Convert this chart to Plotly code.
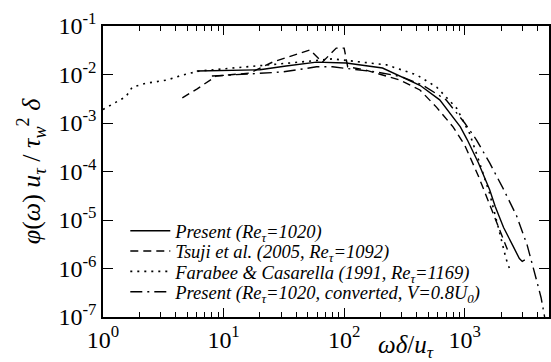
import plotly.graph_objects as go

# Present (Re_tau=1020)
present_w = [6, 10, 20, 33, 59, 104, 208, 425, 620, 920, 1050, 1300, 1610, 1790, 2100, 2500, 2840, 3000, 3150]
present_phi = [0.0118, 0.012, 0.0125, 0.015, 0.018, 0.0173, 0.0136, 6e-3, 3e-3, 8.3e-4, 4.5e-4, 1.5e-4,
               4.2e-5, 1.9e-5, 7e-6, 3e-6, 1.6e-6, 1.4e-6, 1.5e-6]

# Tsuji et al. (2005)
tsuji_w = [4.55, 6, 8.7, 16.5, 25.5, 42, 52, 66, 86, 100, 107, 150, 290, 425, 585, 800, 1000, 1300, 1600, 2000, 2300]
tsuji_phi = [3.3e-3, 5e-3, 9.3e-3, 0.0107, 0.018, 0.0276, 0.032, 0.018, 0.035, 0.035, 0.0144, 0.0124,
             7.7e-3, 4.8e-3, 2.1e-3, 8.3e-4, 3.5e-4, 8e-5, 2.2e-5, 5e-6, 2.2e-6]

# Farabee & Casarella (1991)
farabee_w = [1.0, 1.55, 1.75, 2.28, 3.4, 4.6, 6.3, 11.9, 22.6, 42.6, 80, 135, 225, 400, 585, 860, 1100,
             1330, 1610, 1900, 2200, 2350]
farabee_phi = [1.9e-3, 3.5e-3, 5.5e-3, 6.6e-3, 7.7e-3, 9.8e-3, 0.0118, 0.0135, 0.0158, 0.018, 0.021, 0.018,
               0.0158, 9.8e-3, 5.5e-3, 2e-3, 6e-4, 1.5e-4, 3.5e-5, 7e-6, 1.6e-6, 1e-6]

# Present (converted, V=0.8U0)
conv_w = [8, 10, 16.5, 31, 59, 80, 135, 185, 300, 450, 700, 1000, 1250, 1610, 2080, 2700, 3300, 3700, 4000, 4300, 4600]
conv_phi = [0.0093, 0.0097, 0.0103, 0.0113, 0.0144, 0.0144, 0.0124, 0.0113, 0.009, 0.006, 3e-3, 1e-3, 4.5e-4,
            1.5e-4, 4.5e-5, 1.2e-5, 3e-6, 1.1e-6, 5e-7, 2.5e-7, 1e-7]

series_names = [
    "Present (Re<sub>τ</sub>=1020)",
    "Tsuji et al. (2005, Re<sub>τ</sub>=1092)",
    "Farabee &amp; Casarella (1991, Re<sub>τ</sub>=1169)",
    "Present (Re<sub>τ</sub>=1020, converted, V=0.8U<sub>0</sub>)",
]

x_tickvals = [1, 10, 100, 1000]
x_ticktext = ["10<sup>0</sup>", "10<sup>1</sup>", "10<sup>2</sup>", "10<sup>3</sup>"]
y_tickvals = [1e-7, 1e-6, 1e-5, 1e-4, 1e-3, 1e-2, 1e-1]
y_ticktext = ["10<sup>-7</sup>", "10<sup>-6</sup>", "10<sup>-5</sup>", "10<sup>-4</sup>",
              "10<sup>-3</sup>", "10<sup>-2</sup>", "10<sup>-1</sup>"]
x_minor = [m * 10 ** k for k in range(0, 4) for m in range(2, 10)]

SERIF = "'Liberation Serif', 'Times New Roman', Tinos, 'DejaVu Serif', serif"

styles = [
    dict(color="black", width=1.4, dash="solid"),
    dict(color="black", width=1.4, dash="8px,5px"),
    dict(color="black", width=1.6, dash="2px,5px"),
    dict(color="black", width=1.4, dash="12px,5px,2px,5px"),
]
data = [(present_w, present_phi), (tsuji_w, tsuji_phi), (farabee_w, farabee_phi), (conv_w, conv_phi)]
legend_ids = ["legend", "legend2", "legend3", "legend4"]

fig = go.Figure()
for (xs, ys), name, st, lg in zip(data, series_names, styles, legend_ids):
    fig.add_trace(go.Scatter(x=xs, y=ys, mode="lines", name=name, line=st, legend=lg))

legend_rows_y = [0.295, 0.225, 0.155, 0.085]
legend_common = dict(x=0.05, xanchor="left", yanchor="middle",
                     bgcolor="rgba(0,0,0,0)", borderwidth=0,
                     font=dict(family=SERIF, size=18.5, style="italic", color="black"),
                     itemwidth=40)
legend_layout = {lg: dict(y=yy, **legend_common) for lg, yy in zip(legend_ids, legend_rows_y)}

fig.update_layout(
    width=551, height=362,
    margin=dict(l=103, r=2, t=26, b=45, autoexpand=False),
    paper_bgcolor="white", plot_bgcolor="white",
    font=dict(family=SERIF, color="black"),
    showlegend=True,
    **legend_layout,
    xaxis=dict(type="log", range=[0, 3.699], showgrid=False, zeroline=False, automargin=False,
               showline=True, linecolor="black", linewidth=1.5, mirror="ticks",
               ticks="inside", ticklen=9, tickwidth=1.2, tickcolor="black",
               tickmode="array", tickvals=x_tickvals, ticktext=x_ticktext,
               tickfont=dict(family=SERIF, size=24, color="black"),
               minor=dict(ticks="inside", ticklen=5, tickwidth=1, tickcolor="black",
                          tickmode="array", tickvals=x_minor, showgrid=False)),
    yaxis=dict(type="log", range=[-7, -1], showgrid=False, zeroline=False, automargin=False,
               showline=True, linecolor="black", linewidth=1.5, mirror="ticks",
               ticks="inside", ticklen=10, tickwidth=1.2, tickcolor="black",
               tickmode="array", tickvals=y_tickvals, ticktext=y_ticktext,
               tickfont=dict(family=SERIF, size=24, color="black"),
               title=dict(text="<i>φ</i>(<i>ω</i>) <i>u<sub>τ</sub></i> / <i>τ<sub>w</sub></i><sup>2</sup> <i>δ</i>",
                          font=dict(family=SERIF, size=26, color="black"), standoff=10)),
    annotations=[dict(text="<i>ωδ</i>/<i>u<sub>τ</sub></i>", xref="paper", yref="paper",
                      x=0.68, y=-0.1, xanchor="center", yanchor="middle", showarrow=False,
                      font=dict(family=SERIF, size=25, color="black"))],
)

fig.write_html("out.html", config={"displayModeBar": False},
               post_script="document.body.style.margin='0';document.body.style.overflow='hidden';")
